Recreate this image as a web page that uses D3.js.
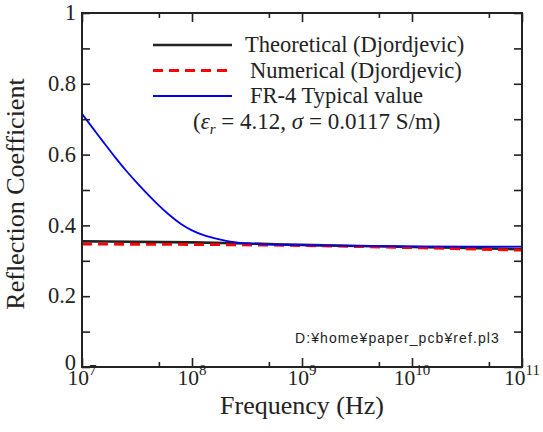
<!DOCTYPE html>
<html>
<head>
<meta charset="utf-8">
<script src="https://cdn.jsdelivr.net/npm/d3@7"></script>
<style>
  body { margin: 0; background: #fff; }
  text { font-family: "Liberation Serif", "Times New Roman", serif; fill: #222; }
</style>
</head>
<body>
<div id="chart"></div>
<script>
// values (x = log10 of frequency in Hz)
var fr4Exp = [7.0, 7.1, 7.2, 7.3, 7.4, 7.5, 7.6, 7.7, 7.8, 7.9, 8.0, 8.1, 8.2, 8.3, 8.4, 8.6, 9.0, 10.0, 11.0];
var fr4Val = [0.715, 0.674, 0.633, 0.593, 0.555, 0.52, 0.487, 0.456, 0.428, 0.404, 0.386, 0.373, 0.364, 0.357, 0.352, 0.347, 0.344, 0.341, 0.340];
var theoExp = [7, 8, 8.5, 9, 10, 11];
var theoVal = [0.355, 0.352, 0.349, 0.345, 0.339, 0.333];
var numExp = [7, 8, 9, 10, 11];
var numVal = [0.347, 0.346, 0.343, 0.337, 0.330];

var xMajorExp = [7, 8, 9, 10, 11];
var xMinor = [5e7, 5e8, 5e9, 5e10];
var yMajor = [0, 0.2, 0.4, 0.6, 0.8, 1];
var yLabels = ["0", "0.2", "0.4", "0.6", "0.8", "1"];
var yMinor = [0.1, 0.3, 0.5, 0.7, 0.9];

var W = 543, H = 432;
var margin = {top: 13, right: 21, bottom: 65, left: 82};
var width = W - margin.left - margin.right;
var height = H - margin.top - margin.bottom;

var svg = d3.select("#chart")
  .append("svg")
    .attr("width", W)
    .attr("height", H)
  .append("g")
    .attr("transform", "translate(" + margin.left + "," + margin.top + ")");

var x = d3.scaleLog().domain([1e7, 1e11]).range([0, width]);
var y = d3.scaleLinear().domain([0, 1]).range([height, 0]);

function pts(ex, vals) {
  return ex.map(function(e, i) { return {f: Math.pow(10, e), v: vals[i]}; });
}

var line = d3.line()
  .x(function(d) { return x(d.f); })
  .y(function(d) { return y(d.v); })
  .curve(d3.curveMonotoneX);

// curves
svg.append("path")
  .datum(pts(theoExp, theoVal))
  .attr("fill", "none")
  .attr("stroke", "#222")
  .attr("stroke-width", 2.6)
  .attr("d", line);
svg.append("path")
  .datum(pts(numExp, numVal))
  .attr("fill", "none")
  .attr("stroke", "#ff0000")
  .attr("stroke-width", 2.8)
  .attr("stroke-dasharray", "10,6")
  .attr("d", line);
svg.append("path")
  .datum(pts(fr4Exp, fr4Val))
  .attr("fill", "none")
  .attr("stroke", "#0000ee")
  .attr("stroke-width", 1.8)
  .attr("d", line);

// ticks, inward on all four sides
var tickColor = "#222";
function tickStyle(g) {
  g.select(".domain").remove();
  g.selectAll(".tick line").attr("stroke", tickColor).attr("stroke-width", 1.6);
}
var xMajor = xMajorExp.map(function(e) { return Math.pow(10, e); });

svg.append("g")
  .attr("transform", "translate(0," + height + ")")
  .call(d3.axisBottom(x).tickValues(xMajor).tickSize(-9).tickFormat(""))
  .call(tickStyle);
svg.append("g")
  .attr("transform", "translate(0," + height + ")")
  .call(d3.axisBottom(x).tickValues(xMinor).tickSize(-5).tickFormat(""))
  .call(tickStyle);
svg.append("g")
  .call(d3.axisTop(x).tickValues(xMajor).tickSize(-9).tickFormat(""))
  .call(tickStyle);
svg.append("g")
  .call(d3.axisTop(x).tickValues(xMinor).tickSize(-5).tickFormat(""))
  .call(tickStyle);

svg.append("g")
  .call(d3.axisLeft(y).tickValues(yMajor.concat(yMinor)).tickSize(-8).tickFormat(""))
  .call(tickStyle);
svg.append("g")
  .attr("transform", "translate(" + width + ",0)")
  .call(d3.axisRight(y).tickValues(yMajor.concat(yMinor)).tickSize(-8).tickFormat(""))
  .call(tickStyle);

// frame
svg.append("rect")
  .attr("width", width)
  .attr("height", height)
  .attr("fill", "none")
  .attr("stroke", tickColor)
  .attr("stroke-width", 2);

// y tick labels
svg.selectAll(".ylab")
  .data(yMajor)
  .enter()
  .append("text")
    .attr("class", "ylab")
    .attr("x", -6)
    .attr("y", function(d) { return y(d); })
    .attr("dy", function(d) { return d === 0 ? "0.12em" : "0.32em"; })
    .attr("text-anchor", "end")
    .style("font-size", "22.5px")
    .text(function(d, i) { return yLabels[i]; });

// x tick labels, 10 with superscript
var xl = svg.selectAll(".xlab")
  .data(xMajorExp)
  .enter()
  .append("text")
    .attr("class", "xlab")
    .attr("x", function(d) { return x(Math.pow(10, d)); })
    .attr("y", height + 18)
    .attr("text-anchor", "middle")
    .style("font-size", "21.5px");
xl.append("tspan").text("10");
xl.append("tspan")
  .attr("dy", -10)
  .style("font-size", "15px")
  .text(function(d) { return d; });

// axis titles
svg.append("text")
  .attr("x", width / 2)
  .attr("y", height + 47)
  .attr("text-anchor", "middle")
  .style("font-size", "26px")
  .text("Frequency (Hz)");
svg.append("text")
  .attr("transform", "translate(" + (-58) + "," + (height / 2 + 4) + ") rotate(-90)")
  .attr("text-anchor", "middle")
  .style("font-size", "26px")
  .text("Reflection Coefficient");

// file path note
svg.append("text")
  .attr("x", 213)
  .attr("y", 330)
  .style("font-family", "'Liberation Sans', Arial, sans-serif")
  .style("font-size", "14px")
  .style("letter-spacing", "1.1px")
  .text("D:\u00a5home\u00a5paper_pcb\u00a5ref.pl3");

// legend
var legendNames = ["Theoretical (Djordjevic)", "Numerical (Djordjevic)", "FR-4 Typical value"];
var legendColors = ["#222", "#ff0000", "#0000ee"];
var legendWidths = [2.6, 2.8, 1.8];
var legendDash = [null, "10,6", null];
var legendTextX = [163, 168, 168];
var lg = svg.append("g");
legendNames.forEach(function(name, i) {
  var ly = 32 + i * 25.5;
  lg.append("line")
    .attr("x1", 71).attr("x2", 150)
    .attr("y1", ly).attr("y2", ly)
    .attr("stroke", legendColors[i])
    .attr("stroke-width", legendWidths[i])
    .attr("stroke-dasharray", legendDash[i]);
  lg.append("text")
    .attr("x", legendTextX[i])
    .attr("y", ly + 7)
    .style("font-size", "22.5px")
    .text(name);
});
var note = lg.append("text")
  .attr("x", 111)
  .attr("y", 32 + 3 * 25.5 + 7)
  .style("font-size", "23px");
note.append("tspan").text("(");
note.append("tspan").style("font-style", "italic").text("\u03b5");
note.append("tspan").style("font-style", "italic").style("font-size", "15px").attr("dy", 5).text("r");
note.append("tspan").attr("dy", -5).text(" = 4.12, ");
note.append("tspan").style("font-style", "italic").text("\u03c3");
note.append("tspan").text(" = 0.0117 S/m)");
</script>
</body>
</html>
